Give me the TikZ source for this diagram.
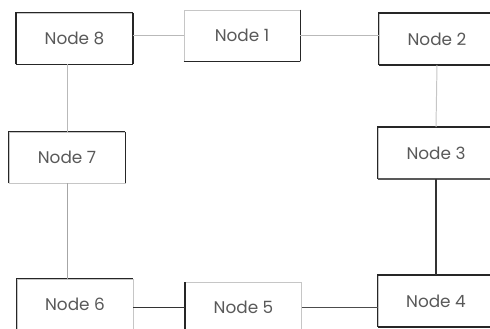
\documentclass[tikz,border=0pt]{standalone}
\usepackage{fontspec}
\setmainfont{Poppins}
\usepackage{xcolor}
\usepackage{tikz}
\usetikzlibrary{positioning,calc}

\begin{document}
\begin{tikzpicture}[x=0.25mm,y=-0.25mm,
  box/.style={draw=gray!45,line width=0.7pt,fill=white,minimum width=29mm,minimum height=12.75mm,inner sep=0pt,font=\fontsize{12}{14}\selectfont,text=black!65},
  rim/.style={draw=black!85,line width=1.4pt},
  lite/.style={draw=gray!55,line width=0.7pt},
  heavy/.style={draw=black!80,line width=1.3pt}]
\useasboundingbox (0,0) rectangle (490,328);
\node[box] (n8) at (74.5,38.5) {Node 8};
\node[box] (n1) at (242,35.5) {Node 1};
\node[box] (n2) at (437,39) {Node 2};
\node[box] (n7) at (67,157.5) {Node 7};
\node[box] (n3) at (436,153) {Node 3};
\node[box] (n6) at (75,304.5) {Node 6};
\node[box] (n5) at (243.5,307.5) {Node 5};
\node[box] (n4) at (436,301) {Node 4};
% dark rims
\foreach \n in {n8,n2,n7,n3,n6,n4} \draw[rim] (\n.south west) -- (\n.north west) -- (\n.north east);
\draw[rim] (n5.south west) -- (n5.north west);
\foreach \n in {n8,n1,n7} \draw[rim] (\n.north east) -- (\n.south east);
\foreach \n in {n8,n1,n2,n4} \draw[rim] (\n.south west) -- (\n.south east);
\draw[draw=black!65,line width=0.9pt] (n3.south west) -- (n3.south east);
% links
\draw[lite] (n8.east |- n1.west) -- (n1.west);
\draw[lite] (n1.east) -- (n1.east -| n2.west);
\draw[lite] (n8.south -| n7.north) -- (n7.north);
\draw[lite,draw=gray!70] (n7.south) -- (n7.south |- n6.north);
\draw[lite,draw=gray!45] (n2.south) -- (n3.north);
\draw[heavy] (n3.south) -- (n4.north);
\draw[heavy] (n6.east |- n5.west) -- (n5.west);
\draw[heavy,draw=black!70] (n5.east) -- (n5.east -| n4.west);
\end{tikzpicture}
\end{document}
